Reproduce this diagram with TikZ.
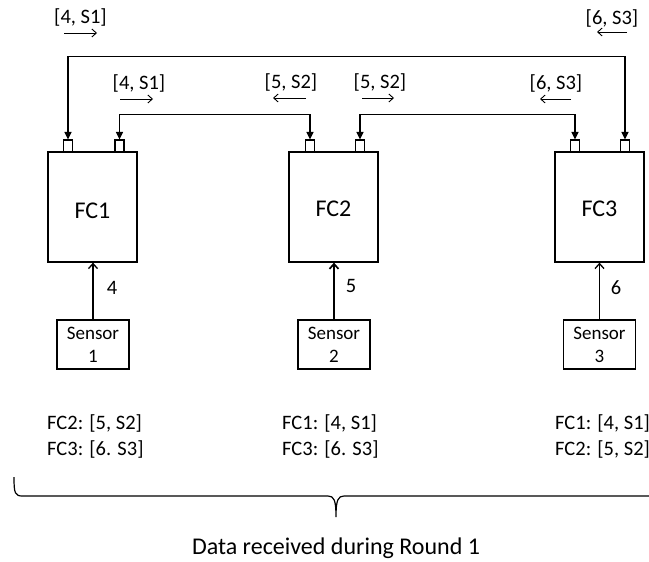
\documentclass[tikz,border=0pt]{standalone}
\usepackage{fontspec}
\setmainfont{Carlito}
\usetikzlibrary{arrows.meta}
\begin{document}
\begin{tikzpicture}[x=1pt,y=-1pt,
  fcbox/.style={draw,line width=1.3pt,minimum width=89pt,minimum height=110pt,inner sep=0pt},
  fclabel/.style={font=\fontsize{24}{28}\selectfont,inner sep=0pt},
  port/.style={draw,line width=1.1pt,minimum width=9pt,minimum height=12pt,inner sep=0pt},
  sensorbox/.style={draw,line width=1.3pt,minimum width=72pt,minimum height=49pt,inner sep=0pt,align=center,font=\fontsize{19}{23}\selectfont},
  link/.style={line width=1.2pt,{Triangle[length=7.5pt,width=7pt]}-{Triangle[length=7.5pt,width=7pt]}},
  feed/.style={line width=1.3pt,-{Straight Barb[length=5pt,width=9pt]}},
  msg/.style={font=\fontsize{20.5}{24}\selectfont,inner sep=0pt},
  dir/.style={line width=0.9pt,-{Straight Barb[length=4.5pt,width=8pt]}},
  txt/.style={font=\fontsize{20.5}{26}\selectfont,inner sep=0pt,align=left,anchor=west}]
\useasboundingbox (0,0) rectangle (649,562);

% flight computers with their ports
\node[fcbox] (fc1) at (92.5,207) {};
\node[fcbox] (fc2) at (333.5,207) {};
\node[fcbox] (fc3) at (599.5,207) {};
\node[fclabel] (t1) at (92.5,211) {FC1};
\node[fclabel] (t2) at (333.5,209) {FC2};
\node[fclabel] (t3) at (599.5,209) {FC3};

\node[port] (p1a) at (68,146) {};
\node[port] (p1b) at (119.5,146) {};
\node[port] (p2a) at (310,146) {};
\node[port] (p2b) at (360,146) {};
\node[port] (p3a) at (575,146) {};
\node[port] (p3b) at (625,146) {};

% links between the flight computers
\draw[link] (p1a.north) -- ++(0,-83) -| (p3b.north);
\draw[link] (p1b.north) -- ++(0,-25) -| (p2a.north);
\draw[link] (p2b.north) -- ++(0,-25) -| (p3a.north);

% sensors
\node[sensorbox] (s1) at (93,344.5) {Sensor\\1};
\node[sensorbox] (s2) at (334,344.5) {Sensor\\2};
\node[sensorbox] (s3) at (599.5,344.5) {Sensor\\3};
\draw[feed] (s1.north) -- (s1.north |- fc1.south);
\draw[line width=1.7pt,-{Straight Barb[length=5pt,width=9pt]}] (s2.north) -- (s2.north |- fc2.south);
\draw[feed] (s3.north) -- (s3.north |- fc3.south);
\node[msg] (v1) at (112,288) {4};
\node[msg] (v2) at (351,286) {5};
\node[msg] (v3) at (616,288) {6};

% messages travelling along the links
\node[msg] (m1) at (80.5,17) {[4, S1]};
\node[msg] (m2) at (612,18) {[6, S3]};
\node[msg] (m3) at (139,83) {[4, S1]};
\node[msg] (m4) at (291,82.5) {[5, S2]};
\node[msg] (m5) at (380,82.5) {[5, S2]};
\node[msg] (m6) at (556,83) {[6, S3]};
\coordinate (d1a) at (64,33);   \coordinate (d1b) at (97,33);
\coordinate (d2a) at (627,32);  \coordinate (d2b) at (597,32);
\coordinate (d3a) at (120,99);  \coordinate (d3b) at (153,99);
\coordinate (d4a) at (306,98);  \coordinate (d4b) at (273,98);
\coordinate (d5a) at (362,98);  \coordinate (d5b) at (394,98);
\coordinate (d6a) at (571,99);  \coordinate (d6b) at (540,99);
\foreach \i in {1,...,6} \draw[dir] (d\i a) -- (d\i b);

% data held by each computer after the round
\node[txt] (r1) at (47,436) {FC2: [5, S2]\\FC3: [6. S3]};
\node[txt] (r2) at (282,436) {FC1: [4, S1]\\FC3: [6. S3]};
\node[txt] (r3) at (555,436) {FC1: [4, S1]\\FC2: [5, S2]};

% brace under the three lists
\coordinate (bl) at (14,477);
\coordinate (bt) at (336,517);
\coordinate (br) at (658,477);
\draw[line width=1.2pt] (bl) .. controls (14,494) and (15,496) .. (23,496) -- (328,496)
  .. controls (334,496) and (336,500) .. (bt)
  .. controls (336,500) and (338,496) .. (344,496) -- (649,496)
  .. controls (657,496) and (658,494) .. (br);
\node[font=\fontsize{24}{28}\selectfont,inner sep=0pt] (cap) at (336,548) {Data received during Round 1};
\end{tikzpicture}
\end{document}
